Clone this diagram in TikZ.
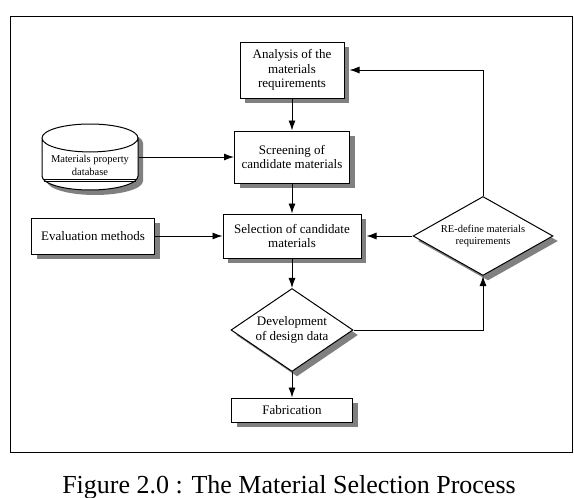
\documentclass[tikz,border=0pt]{standalone}
\usepackage{fontspec}
\setmainfont{Liberation Serif}
\usetikzlibrary{arrows.meta,shapes.geometric,shadows}

\tikzset{
    shadowed/.style={draw, fill=white, line width=1pt,
        general shadow={shadow xshift=5pt, shadow yshift=-5pt, fill=black!50}},
    stepbox/.style={shadowed, rectangle, align=center, inner sep=2pt,
        font=\fontsize{13}{14.5}\selectfont},
    decision/.style={shadowed, diamond, align=center, inner sep=0pt, aspect=1.5,
        font=\fontsize{13}{14.5}\selectfont},
    storage/.style={shadowed, cylinder, shape border rotate=90, aspect=0.35,
        align=center, inner sep=1pt, font=\fontsize{10.5}{13.5}\selectfont},
    flow/.style={line width=0.9pt, -{Latex[length=10pt,width=7pt]}},
}

\begin{document}
\begin{tikzpicture}[x=1pt, y=-1pt]
        \useasboundingbox (0,0) rectangle (574,498);
        \draw[line width=1pt] (10,16) rectangle (572,452);

        \node[stepbox, minimum width=104pt, minimum height=56pt] (analysis) at (292,70) {Analysis of the\\materials\\requirements};
        \node[stepbox, minimum width=115pt, minimum height=52pt] (screening) at (292,157) {Screening of\\candidate materials};
        \node[stepbox, minimum width=138pt, minimum height=44pt] (selection) at (292,236) {Selection of candidate\\materials};
        \node[decision, minimum width=122pt, minimum height=83pt] (develop) at (292,330) {Development\\of design data};
        \node[stepbox, minimum width=121pt, minimum height=24pt] (fabric) at (292,410) {Fabrication};

        \node[storage, anchor=shape center, minimum width=96pt, minimum height=66pt] (matdb) at (90,157) {Materials property\\database};
        \node[stepbox, minimum width=123pt, minimum height=36pt] (evaluate) at (93,236) {Evaluation methods};
        \node[decision, font=\fontsize{10.5}{12}\selectfont, aspect=1.77, minimum width=140pt, minimum height=79pt] (redefine) at (483,236) {RE-define materials\\requirements};

        % underline in the database
        \draw[line width=0.5pt] (44,179) -- (136,179);
        \draw[line width=0.5pt] (44,181.5) -- (136,181.5);

        \draw[flow] (analysis) -- (screening);
        \draw[flow] (matdb.east |- screening) -- (screening);
        \draw[flow] (screening) -- (selection);
        \draw[flow] (evaluate) -- (selection);
        \draw[flow, shorten >=5pt] (redefine) -- (selection);
        \draw[flow] (selection) -- (develop);
        \draw[flow] (develop) -- (fabric);
        \draw[flow] (develop.east) -| (redefine.south);
        \draw[flow, shorten >=5pt] (redefine.north) |- (analysis.east);

        \node[anchor=base, font=\fontsize{26}{30}\selectfont] (caption) at (289,493) {Figure 2.0 : The Material Selection Process};
    \end{tikzpicture}
\end{document}
